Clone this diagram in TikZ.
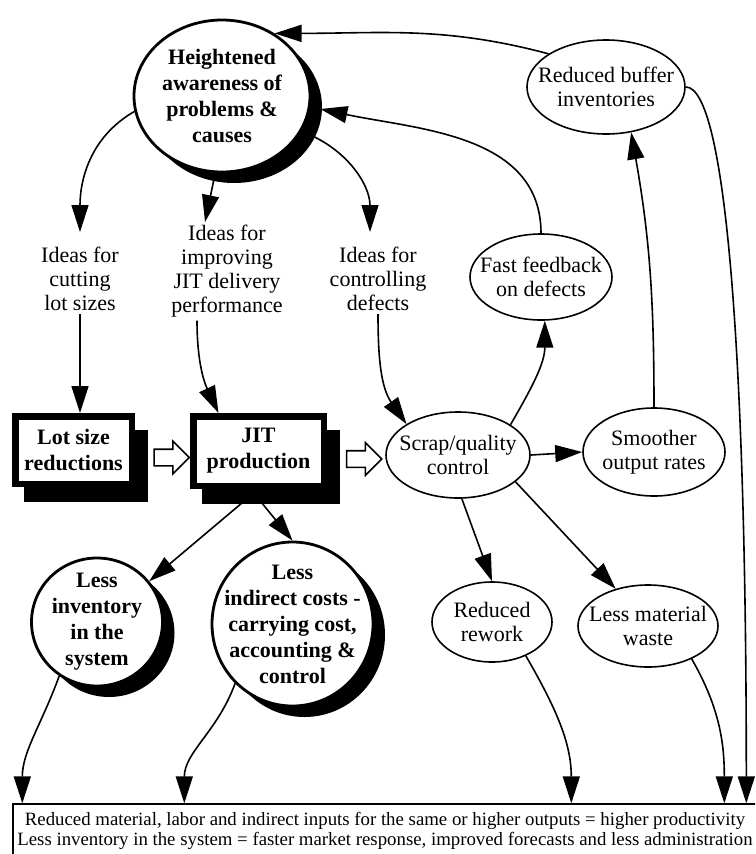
\documentclass[tikz,border=0pt]{standalone}
\usepackage{fontspec}
\setmainfont{Liberation Serif}
\usepackage{tikz}
\usetikzlibrary{shapes.geometric,shapes.arrows,arrows.meta,shadows}

\newcommand{\jitfont}{\fontsize{22}{24}\selectfont}
\newcommand{\jitbold}{\fontsize{22}{26}\selectfont\bfseries}
\newcommand{\jitsmall}{\fontsize{18.8}{19.5}\selectfont}

\begin{document}
\begin{tikzpicture}[x=1pt, y=-1pt,
    idea/.style={font=\jitfont, align=center, inner sep=3pt, anchor=north},
    effect/.style={ellipse, draw, line width=1.6pt, inner sep=-15pt, font=\jitfont, align=center},
    keyeffect/.style={ellipse, draw, line width=2.8pt, fill=white, inner sep=-15pt, font=\jitbold, align=center,
        drop shadow={shadow xshift=12pt, shadow yshift=-11pt, fill=black, opacity=1}},
    stage/.style={rectangle, draw, line width=6.5pt, fill=white, font=\jitbold, align=center,
        drop shadow={shadow xshift=12pt, shadow yshift=-15pt, shadow scale=1.06, fill=black, opacity=1}},
    hollow/.style={single arrow, draw, line width=1.6pt, fill=white, inner xsep=0pt, inner ysep=7.5pt,
        minimum height=35pt, minimum width=31pt, single arrow head extend=8pt},
    arr/.style={line width=1.6pt, -{Triangle[length=27pt, width=17pt]}}]

% page frame
\useasboundingbox (0,0) rectangle (755,854);
\clip (0,0) rectangle (755,854);

% Awareness and the ideas it produces
\node[keyeffect, minimum width=176pt, minimum height=152pt] (aware) at (222,96) {Heightened\\awareness of\\problems \&\\causes};
\node[idea] (cut) at (80,244) {Ideas for\\cutting\\lot sizes};
\node[idea] (imp) at (227,222) {Ideas for\\improving\\JIT delivery\\performance};
\node[idea] (ctl) at (378,244) {Ideas for\\controlling\\defects};

% Actions
\node[stage, minimum width=116.5pt, minimum height=67.5pt] (lot) at (73.5,450) {Lot size\\reductions};
\node[stage, minimum width=130.5pt, minimum height=69.5pt] (jit) at (258.5,451) {JIT\\production};
\node[hollow] (push1) at (167.5,457.5) {};
\node[hollow] (push2) at (360,459) {};

% Effects
\node[effect, minimum width=144pt, minimum height=86pt] (scrap) at (458,455) {Scrap/quality\\control};
\node[effect, minimum width=142pt, minimum height=88pt] (smooth) at (654,452) {Smoother\\output rates};
\node[effect, minimum width=142pt, minimum height=86pt] (feed) at (541,277) {Fast feedback\\on defects};
\node[effect, minimum width=158pt, minimum height=94pt] (buffer) at (606,87) {Reduced buffer\\inventories};
\node[effect, minimum width=120pt, minimum height=80pt] (rework) at (492,622) {Reduced\\rework};
\node[effect, minimum width=140pt, minimum height=82pt] (waste) at (648,626) {Less material\\waste};
\node[keyeffect, minimum width=131pt, minimum height=128pt] (inv) at (97,622) {Less\\inventory\\in the\\system};
\node[keyeffect, minimum width=161pt, minimum height=164pt] (cost) at (292.5,624) {Less\\indirect costs -\\carrying cost,\\accounting \&\\control};

% Bottom line
\node[draw, line width=1.4pt, minimum width=744pt, minimum height=54pt, inner sep=0pt,
    font=\jitsmall, align=center] (gains) at (385,831)
    {Reduced material, labor and indirect inputs for the same or higher outputs = higher productivity\\
     Less inventory in the system = faster market response, improved forecasts and less administration};
\foreach \name/\dx in {g1/10, g2/172, g3/559, g4/712, g5/734}
    \coordinate (\name) at ([xshift=\dx pt]gains.north west);

% Awareness feeds the ideas
\draw[arr] (aware.190) to[out=210, in=90] ([yshift=12pt]cut.north);
\draw[arr] (aware.265) -- ([xshift=-22pt]imp.north);
\draw[arr] (aware.-24) to[out=-20, in=90] ([xshift=-8pt, yshift=12pt]ctl.north);

% Ideas into actions
\draw[arr] (cut.south) -- (cut.south |- lot.north);
\draw[arr] ([xshift=-30pt]imp.south) to[out=-90, in=115] ([xshift=-40pt]jit.north);
\draw[arr] (ctl.south) to[out=-90, in=125] (scrap.149);

% JIT results
\draw[arr] (jit.south) -- (inv.38);
\draw[arr] ([xshift=-8pt]jit.south) -- (cost.north);

% Quality control results
\draw[arr] (scrap.east) -- (smooth.west);
\draw[arr] (scrap.30) to[out=60, in=-90] (feed.-85);
\draw[arr] (scrap.-85) -- (rework.north);
\draw[arr] (scrap.-25) -- (waste.131);

% Loops back to awareness
\draw[arr] (smooth.north) to[out=90, in=-80] (buffer.-61);
\draw[arr] (feed.north) to[out=90, in=-12] ([xshift=9pt, yshift=-13pt]aware.east);
\draw[arr] (buffer.150) to[out=165, in=0] (aware.50);

% Into the bottom line
\draw[arr] (inv.235) to[out=250, in=90] (g1);
\draw[arr] (cost.226) to[out=250, in=90] (g2);
\draw[arr] (rework.-45) to[out=-60, in=90] (g3);
\draw[arr] (waste.-37) to[out=-60, in=90] (g4);
\draw[arr] (buffer.east) .. controls +(40,0) and +(0,-450) .. (g5);
\end{tikzpicture}
\end{document}
